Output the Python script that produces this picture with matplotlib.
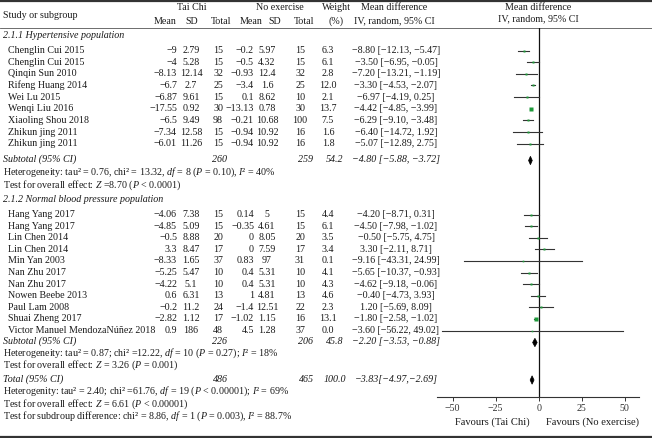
import matplotlib
matplotlib.use("Agg")
import matplotlib.pyplot as plt
from matplotlib.patches import Polygon

plt.rcParams['font.family'] = ['Liberation Serif', 'DejaVu Serif']
plt.rcParams['mathtext.fontset'] = 'custom'
plt.rcParams['mathtext.rm'] = 'Liberation Serif'
plt.rcParams['mathtext.it'] = 'Liberation Serif:italic'

# ---------------- data ----------------
hyp_studies = ["Chenglin Cui 2015", "Chenglin Cui 2015", "Qinqin Sun 2010", "Rifeng Huang 2014",
               "Wei Lu 2015", "Wenqi Liu 2016", "Xiaoling Shou 2018", "Zhikun jing 2011", "Zhikun jing 2011"]
hyp_tc_mean = [-9, -4, -8.13, -6.7, -6.87, -17.55, -6.5, -7.34, -6.01]
hyp_tc_sd = [2.79, 5.28, 12.14, 2.7, 9.61, 0.92, 9.49, 12.58, 11.26]
hyp_tc_n = [15, 15, 32, 25, 15, 30, 98, 15, 15]
hyp_ne_mean = [-0.2, -0.5, -0.93, -3.4, 0.1, -13.13, -0.21, -0.94, -0.94]
hyp_ne_sd = [5.97, 4.32, 12.4, 1.6, 8.62, 0.78, 10.68, 10.92, 10.92]
hyp_ne_n = [15, 15, 32, 25, 10, 30, 100, 16, 16]
hyp_weight = [6.3, 6.1, 2.8, 12.0, 2.1, 13.7, 7.5, 1.6, 1.8]
hyp_md = [-8.80, -3.50, -7.20, -3.30, -6.97, -4.42, -6.29, -6.40, -5.07]
hyp_lo = [-12.13, -6.95, -13.21, -4.53, -14.19, -4.85, -9.10, -14.72, -12.89]
hyp_hi = [-5.47, -0.05, -1.19, -2.07, 0.25, -3.99, -3.48, 1.92, 2.75]
hyp_ci_text = ["−8.80 [−12.13, −5.47]", "−3.50 [−6.95, −0.05]", "−7.20 [−13.21, −1.19]",
               "−3.30 [−4.53, −2.07]", "−6.97 [−4.19, 0.25]", "−4.42 [−4.85, −3.99]",
               "−6.29 [−9.10, −3.48]", "−6.40 [−14.72, 1.92]", "−5.07 [−12.89, 2.75]"]
hyp_sub = dict(tc_n=260, ne_n=259, weight=54.2, md=-4.80, lo=-5.88, hi=-3.72,
               text="−4.80 [−5.88, −3.72]")

nbp_studies = ["Hang Yang 2017", "Hang Yang 2017", "Lin Chen 2014", "Lin Chen 2014", "Min Yan 2003",
               "Nan Zhu 2017", "Nan Zhu 2017", "Nowen Beebe 2013", "Paul Lam 2008", "Shuai Zheng 2017",
               "Victor Manuel MendozaNúñez 2018"]
nbp_tc_mean = [-4.06, -4.85, -0.5, 3.3, -8.33, -5.25, -4.22, 0.6, -0.2, -2.82, 0.9]
nbp_tc_sd = [7.38, 5.09, 8.88, 8.47, 1.65, 5.47, 5.1, 6.31, 11.2, 1.12, 186]
nbp_tc_n = [15, 15, 20, 17, 37, 10, 10, 13, 24, 17, 48]
nbp_ne_mean = [0.14, -0.35, 0, 0, 0.83, 0.4, 0.4, 1, -1.4, -1.02, 4.5]
nbp_ne_sd = [5, 4.61, 8.05, 7.59, 97, 5.31, 5.31, 4.81, 12.51, 1.15, 1.28]
nbp_ne_n = [15, 15, 20, 17, 31, 10, 10, 13, 22, 16, 37]
nbp_weight = [4.4, 6.1, 3.5, 3.4, 0.1, 4.1, 4.3, 4.6, 2.3, 13.1, 0.0]
nbp_md = [-4.20, -4.50, -0.50, 3.30, -9.16, -5.65, -4.62, -0.40, 1.20, -1.80, -3.60]
nbp_lo = [-8.71, -7.98, -5.75, -2.11, -43.31, -10.37, -9.18, -4.73, -5.69, -2.58, -56.22]
nbp_hi = [0.31, -1.02, 4.75, 8.71, 24.99, -0.93, -0.06, 3.93, 8.09, -1.02, 49.02]
nbp_ci_text = ["−4.20 [−8.71, 0.31]", "−4.50 [−7.98, −1.02]", "−0.50 [−5.75, 4.75]",
               "3.30 [−2.11, 8.71]", "−9.16 [−43.31, 24.99]", "−5.65 [−10.37, −0.93]",
               "−4.62 [−9.18, −0.06]", "−0.40 [−4.73, 3.93]", "1.20 [−5.69, 8.09]",
               "−1.80 [−2.58, −1.02]", "−3.60 [−56.22, 49.02]"]
nbp_sub = dict(tc_n=226, ne_n=206, weight=45.8, md=-2.20, lo=-3.53, hi=-0.88,
               text="−2.20 [−3.53, −0.88]")

total = dict(tc_n=486, ne_n=465, weight=100.0, md=-3.83, lo=-4.97, hi=-2.69,
             text="−3.83[−4.97,−2.69]")

x_ticks = [-50, -25, 0, 25, 50]

# ---------------- layout ----------------
W, H = 652, 438
fig = plt.figure(figsize=(W / 100, H / 100), dpi=100)
tab = fig.add_axes([0, 0, 1, 1])
tab.set_xlim(0, W)
tab.set_ylim(H, 0)
tab.axis('off')

FS = 7.2
col = '#1a1a1a'


def num(v):
    return f"{v:g}".replace('-', '−')


def T(x, y, s, ha='left', style='normal', fs=FS):
    tab.text(x, y, s, ha=ha, va='center', fontsize=fs, style=style, color=col)


# header
tab.plot([0, W], [1.2, 1.2], color='#333333', lw=1.6, solid_capstyle='butt')
tab.plot([0, W], [28, 28], color='#555555', lw=0.6)
tab.plot([0, W], [436.5, 436.5], color='#333333', lw=1.6, solid_capstyle='butt')

T(3, 15, "Study or subgroup")
T(192, 8, "Tai Chi", 'center')
T(280, 8, "No exercise", 'center')
T(336, 8, "Weight", 'center')
T(394, 8, "Mean difference", 'center')
for xx, s in [(165, "Mean"), (192, "SD"), (221, "Total"), (251, "Mean"), (275, "SD"), (304, "Total"),
              (336, "(%)"), (394, "IV, random, 95% CI")]:
    T(xx, 21, s, 'center')
T(538, 7, "Mean difference", 'center')
T(538, 18.5, "IV, random, 95% CI", 'center')

# column x positions
X_NAME, X_TCM, X_TCSD, X_TCN = 8, 177, 191, 218
X_NEM, X_NESD, X_NEN, X_W, X_CI = 254, 267, 300, 328, 396

# forest axes
FX0, FX1, FY0, FY1 = 437, 639, 28, 397
fa = fig.add_axes([FX0 / W, 1 - FY1 / H, (FX1 - FX0) / W, (FY1 - FY0) / H])
fa.set_xlim(-59.1, 58.3)
fa.set_ylim(FY1, FY0)
fa.patch.set_alpha(0)
for s in ['top', 'right', 'left']:
    fa.spines[s].set_visible(False)
fa.spines['bottom'].set_color('#333333')
fa.spines['bottom'].set_linewidth(0.8)
fa.set_yticks([])
fa.set_xticks(x_ticks)
fa.set_xticklabels([num(t) for t in x_ticks], fontsize=FS, color=col)
fa.tick_params(axis='x', direction='out', length=3, width=0.7, pad=2, colors='#333333')
fa.axvline(0, color='#111111', lw=0.9)


def diamond(y, lo, md, hi):
    h = 4.2
    fa.add_patch(Polygon([[lo, y], [md, y - h], [hi, y], [md, y + h]], closed=True,
                         facecolor='black', edgecolor='black', lw=0.5))


def block(y0, studies, tcm, tcsd, tcn, nem, nesd, nen, w, md, lo, hi, cit, step=11.6):
    for i, name in enumerate(studies):
        y = y0 + i * step
        T(X_NAME, y, name)
        T(X_TCM, y, num(tcm[i]), 'right')
        T(X_TCSD, y, num(tcsd[i]), 'center')
        T(X_TCN, y, num(tcn[i]), 'center')
        T(X_NEM, y, num(nem[i]), 'right')
        T(X_NESD, y, num(nesd[i]), 'center')
        T(X_NEN, y, num(nen[i]), 'center')
        T(X_W, y, f"{w[i]:.1f}", 'center')
        T(X_CI, y, cit[i], 'center')
        fa.plot([lo[i], hi[i]], [y, y], color='#333333', lw=0.8, zorder=2)
        ms = 1.1 + 0.3 * (w[i] ** 0.5)
        fa.plot([md[i]], [y], marker='s', ms=ms, color='#1e9a3a', mec='none', zorder=3)


def summary(y, label, d):
    T(3, y, label, style='italic')
    T(220, y, str(d['tc_n']), 'center', 'italic')
    T(306, y, str(d['ne_n']), 'center', 'italic')
    T(335, y, f"{d['weight']:.1f}", 'center', 'italic')
    T(X_CI, y, d['text'], 'center', 'italic')
    diamond(y + 1, d['lo'], d['md'], d['hi'])


# subgroup 1
T(3, 35, "2.1.1 Hypertensive population", style='italic')
block(50.5, hyp_studies, hyp_tc_mean, hyp_tc_sd, hyp_tc_n, hyp_ne_mean, hyp_ne_sd, hyp_ne_n,
      hyp_weight, hyp_md, hyp_lo, hyp_hi, hyp_ci_text, step=11.65)
summary(159.5, "Subtotal (95% CI)", hyp_sub)
T(3, 172.5, r"Heterogeneity: tau² = 0.76, chi² = 13.32, $df$ = 8 ($P$ = 0.10), $I$² = 40%")
T(3, 185, r"Test for overall effect: $Z$ =8.70 ($P$ < 0.0001)")

# subgroup 2
T(3, 200, "2.1.2 Normal blood pressure population", style='italic')
block(214.5, nbp_studies, nbp_tc_mean, nbp_tc_sd, nbp_tc_n, nbp_ne_mean, nbp_ne_sd, nbp_ne_n,
      nbp_weight, nbp_md, nbp_lo, nbp_hi, nbp_ci_text, step=11.6)
summary(341.5, "Subtotal (95% CI)", nbp_sub)
T(3, 353.5, r"Heterogeneity: tau² = 0.87; chi² =12.22, $df$ = 10 ($P$ = 0.27); $I$² = 18%")
T(3, 365.5, r"Test for overall effect: $Z$ = 3.26 ($P$ = 0.001)")

# total
summary(379, "Total (95% CI)", total)
T(3, 391.5, r"Heterogenity: tau² = 2.40; chi² =61.76, $df$ = 19 ($P$ < 0.00001); $I$² = 69%")
T(3, 404, r"Test for overall effect: $Z$ = 6.61 ($P$ < 0.00001)")
T(3, 416.5, r"Test for subdroup difference: chi² = 8.86, $df$ = 1 ($P$ = 0.003), $I$² = 88.7%")

T(492, 422, "Favours (Tai Chi)", 'center', fs=7.6)
T(592, 422, "Favours (No exercise)", 'center', fs=7.6)

fig.savefig("out.png", dpi=100)
